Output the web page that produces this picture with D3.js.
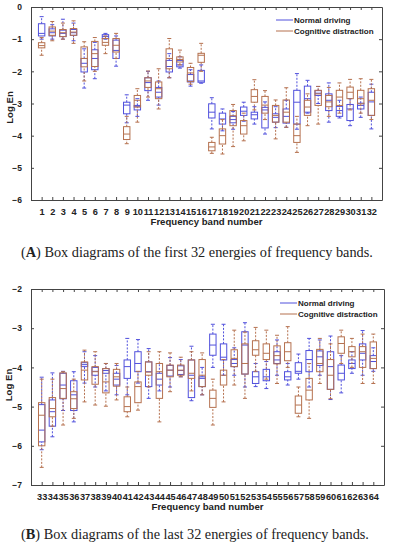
<!DOCTYPE html>
<html>
<head>
<meta charset="utf-8">
<script src="https://cdn.jsdelivr.net/npm/d3@7"></script>
<style>
  body { margin:0; background:#fff; }
  .tick text { font-family:"Liberation Sans", Arial, sans-serif; font-weight:bold; fill:#222; }
  .label { font-family:"Liberation Sans", Arial, sans-serif; font-weight:bold; fill:#222; }
  .caption { font-family:"Liberation Serif", "Times New Roman", serif; fill:#222; }
</style>
</head>
<body>
<svg width="394" height="550"></svg>
<script>
// box stats per band: [lowWhisker, q1, median, q3, highWhisker]
var bandsA = d3.range(1, 33);
var bandsB = d3.range(33, 65);

var normalA = [
  [-1.0,-0.9,-0.82,-0.52,-0.3],[-1.0,-0.9,-0.8,-0.68,-0.55],[-1.0,-0.92,-0.82,-0.72,-0.38],[-1.05,-0.88,-0.8,-0.7,-0.5],
  [-2.52,-2.02,-1.75,-1.6,-1.3],[-2.23,-1.95,-1.6,-1.33,-1.1],[-1.0,-0.98,-0.92,-0.86,-0.82],[-1.84,-1.6,-1.35,-1.03,-0.9],
  [-3.6,-3.32,-3.05,-2.96,-2.73],[-3.4,-3.2,-3.1,-3.06,-2.85],[-2.9,-2.6,-2.35,-2.2,-2.0],[-3.05,-2.8,-2.65,-2.5,-2.3],
  [-2.2,-2.02,-1.85,-1.66,-1.45],[-1.9,-1.86,-1.8,-1.66,-1.55],[-2.46,-2.33,-2.3,-2.1,-1.95],[-2.37,-2.34,-2.3,-1.97,-1.8],
  [-3.79,-3.45,-3.27,-3.01,-2.82],[-3.85,-3.64,-3.48,-3.3,-3.17],[-3.8,-3.6,-3.5,-3.4,-3.25],[-3.55,-3.37,-3.24,-3.11,-2.96],
  [-3.64,-3.48,-3.35,-3.27,-3.1],[-3.95,-3.76,-3.2,-3.12,-2.95],[-3.75,-3.58,-3.43,-3.32,-3.1],[-3.74,-3.61,-3.4,-3.17,-2.9],
  [-3.8,-3.64,-2.96,-2.59,-2.07],[-3.3,-3.27,-2.85,-2.46,-2.28],[-3.0,-2.75,-2.68,-2.6,-2.47],[-3.58,-3.22,-2.9,-2.7,-2.36],
  [-3.45,-3.4,-3.22,-3.09,-2.9],[-3.69,-3.53,-3.17,-3.03,-2.85],[-3.43,-3.17,-3.06,-2.99,-2.8],[-3.79,-3.37,-2.95,-2.65,-2.4]
];
var cognitiveA = [
  [-1.5,-1.27,-1.2,-1.11,-0.95],[-1.05,-0.88,-0.75,-0.62,-0.45],[-1.0,-0.92,-0.8,-0.7,-0.5],[-1.13,-0.88,-0.78,-0.67,-0.43],
  [-2.3,-1.86,-1.6,-1.24,-1.08],[-2.0,-1.85,-1.45,-1.07,-0.95],[-1.45,-1.19,-1.1,-0.98,-0.9],[-1.6,-1.4,-1.19,-0.98,-0.82],
  [-4.25,-4.12,-3.95,-3.72,-3.4],[-3.58,-3.11,-2.9,-2.75,-2.54],[-2.8,-2.5,-2.3,-2.2,-1.99],[-3.17,-2.85,-2.54,-2.33,-1.92],
  [-2.2,-1.92,-1.6,-1.3,-0.98],[-1.8,-1.71,-1.63,-1.55,-1.34],[-2.4,-2.32,-2.05,-1.88,-1.75],[-2.0,-1.72,-1.5,-1.44,-1.13],
  [-4.55,-4.47,-4.35,-4.21,-4.05],[-4.57,-4.26,-4.0,-3.79,-3.5],[-4.34,-3.69,-3.38,-3.22,-3.03],[-4.16,-3.95,-3.69,-3.53,-3.3],
  [-3.2,-2.96,-2.78,-2.57,-2.26],[-3.5,-3.3,-3.05,-2.78,-2.6],[-4.1,-3.58,-3.37,-3.06,-2.89],[-3.74,-3.58,-3.27,-2.89,-2.51],
  [-4.52,-4.21,-4.0,-3.64,-3.4],[-3.69,-3.37,-3.11,-2.9,-2.7],[-3.64,-3.06,-2.7,-2.59,-2.47],[-3.4,-3.1,-2.95,-2.75,-2.5],
  [-3.3,-3.06,-2.8,-2.59,-2.36],[-3.2,-2.85,-2.65,-2.49,-2.25],[-3.3,-3.01,-2.85,-2.59,-2.23],[-3.5,-3.37,-2.9,-2.54,-2.25]
];
var normalB = [
  [-6.1,-5.9,-5.6,-4.95,-4.25],[-5.77,-5.5,-5.13,-4.83,-4.14],[-5.1,-4.8,-4.45,-4.15,-4.1],[-5.39,-5.1,-4.7,-4.34,-4.11],
  [-4.4,-3.98,-3.93,-3.88,-3.6],[-4.5,-4.2,-4.1,-4.0,-3.7],[-4.6,-4.15,-4.08,-4.03,-3.9],[-4.7,-4.45,-4.3,-4.15,-3.95],
  [-4.7,-4.28,-3.98,-3.81,-3.26],[-4.4,-4.11,-3.9,-3.6,-3.29],[-4.79,-4.49,-4.11,-3.86,-3.52],[-4.6,-4.45,-4.3,-4.15,-3.9],
  [-4.5,-4.22,-4.07,-3.95,-3.75],[-4.24,-4.18,-4.08,-3.96,-3.8],[-4.85,-4.77,-4.2,-3.81,-3.46],[-4.7,-4.49,-4.28,-4.24,-4.0],
  [-4.0,-3.69,-3.43,-3.15,-2.9],[-4.2,-3.81,-3.74,-3.4,-2.9],[-4.2,-3.98,-3.9,-3.8,-3.5],[-4.5,-4.17,-3.43,-3.09,-2.86],
  [-4.49,-4.41,-4.24,-4.11,-3.9],[-4.54,-4.34,-4.24,-4.05,-3.85],[-4.2,-3.9,-3.81,-3.6,-3.3],[-4.45,-4.32,-4.24,-4.11,-3.9],
  [-4.3,-4.15,-4.1,-3.88,-3.66],[-4.5,-4.11,-3.8,-3.57,-3.26],[-4.2,-3.95,-3.73,-3.58,-3.3],[-4.82,-4.56,-3.98,-3.6,-3.2],
  [-4.65,-4.32,-4.15,-3.94,-3.7],[-4.15,-4.03,-3.9,-3.81,-3.6],[-4.2,-3.81,-3.64,-3.4,-3.06],[-4.1,-4.03,-3.85,-3.7,-3.5]
];
var cognitiveB = [
  [-6.55,-6.0,-5.22,-4.9,-4.3],[-5.5,-5.26,-5.05,-4.77,-4.3],[-5.47,-4.79,-4.54,-4.14,-4.11],[-5.3,-5.05,-4.8,-4.62,-4.3],
  [-4.88,-4.32,-4.07,-3.86,-3.56],[-4.96,-4.43,-4.11,-3.98,-3.6],[-4.99,-4.65,-4.37,-4.03,-3.9],[-4.83,-4.48,-4.24,-4.05,-3.9],
  [-5.26,-5.13,-5.0,-4.75,-4.5],[-5.09,-4.9,-4.49,-4.37,-4.1],[-4.5,-4.2,-4.12,-3.86,-3.6],[-5.39,-4.79,-4.11,-3.9,-3.6],
  [-4.62,-4.24,-4.07,-3.94,-3.63],[-4.24,-4.2,-4.07,-3.94,-3.74],[-4.6,-4.28,-4.15,-3.81,-3.6],[-4.7,-4.49,-4.2,-3.8,-3.63],
  [-5.47,-5.02,-4.79,-4.58,-4.3],[-4.88,-4.45,-4.2,-4.07,-3.8],[-4.45,-3.98,-3.77,-3.55,-3.05],[-4.79,-4.17,-3.9,-3.4,-3.1],
  [-4.1,-3.69,-3.55,-3.32,-2.98],[-4.3,-3.8,-3.64,-3.4,-3.05],[-4.41,-3.91,-3.7,-3.45,-3.18],[-4.0,-3.83,-3.6,-3.37,-2.96],
  [-5.26,-5.17,-4.96,-4.73,-4.5],[-5.3,-4.83,-4.58,-4.28,-3.9],[-4.41,-4.11,-3.9,-3.54,-3.26],[-4.8,-4.56,-4.2,-3.8,-3.4],
  [-3.9,-3.64,-3.39,-3.22,-3.05],[-4.0,-3.73,-3.6,-3.47,-3.26],[-4.41,-4.0,-3.6,-3.47,-3.15],[-4.41,-4.03,-3.77,-3.35,-3.15]
];

var seriesNames = ["Normal driving", "Cognitive distraction"];
var seriesColors = ["#5050dc", "#b5714f"];

var svg = d3.select("svg");

//draws one panel of box plots
var drawPanel = function(p)
{
    var xScale = d3.scaleLinear()
        .domain([p.bands[0]-1, p.bands[p.bands.length-1]+1])
        .range([p.left, p.right]);
    var yScale = d3.scaleLinear()
        .domain(p.yDomain)
        .range([p.bottom, p.top]);

    var g = svg.append("g");

    // boxes, one group per series
    [p.normal, p.cognitive].forEach(function(data, si)
    {
        var col = seriesColors[si];
        var boxes = g.append("g")
            .selectAll("g")
            .data(data)
            .enter()
            .append("g");
        var bw = 6.4, cw = 2;
        var xc = function(d, i) { return xScale(p.bands[i]); };

        boxes.append("line")
            .attr("x1", xc).attr("x2", xc)
            .attr("y1", function(d){ return yScale(d[0]); })
            .attr("y2", function(d){ return yScale(d[1]); })
            .attr("stroke", col).attr("stroke-dasharray", "2,1.5");
        boxes.append("line")
            .attr("x1", xc).attr("x2", xc)
            .attr("y1", function(d){ return yScale(d[3]); })
            .attr("y2", function(d){ return yScale(d[4]); })
            .attr("stroke", col).attr("stroke-dasharray", "2,1.5");
        [0, 4].forEach(function(k)
        {
            boxes.append("line")
                .attr("x1", function(d,i){ return xc(d,i)-cw; })
                .attr("x2", function(d,i){ return xc(d,i)+cw; })
                .attr("y1", function(d){ return yScale(d[k]); })
                .attr("y2", function(d){ return yScale(d[k]); })
                .attr("stroke", col);
        });
        boxes.append("rect")
            .attr("x", function(d,i){ return xc(d,i)-bw/2; })
            .attr("width", bw)
            .attr("y", function(d){ return yScale(d[3]); })
            .attr("height", function(d){ return yScale(d[1]) - yScale(d[3]); })
            .attr("fill", "none")
            .attr("stroke", col);
        boxes.append("line")
            .attr("x1", function(d,i){ return xc(d,i)-bw/2; })
            .attr("x2", function(d,i){ return xc(d,i)+bw/2; })
            .attr("y1", function(d){ return yScale(d[2]); })
            .attr("y2", function(d){ return yScale(d[2]); })
            .attr("stroke", col);
    });

    // axes, ticks inward on all four sides
    var yTicks = d3.range(p.yDomain[0], p.yDomain[1]+1);
    var axL = g.append("g").attr("transform", "translate("+p.left+",0)")
        .call(d3.axisLeft(yScale).tickValues(yTicks).tickSizeInner(-3).tickSizeOuter(0).tickPadding(9).tickFormat(d3.format("d")));
    var axR = g.append("g").attr("transform", "translate("+p.right+",0)")
        .call(d3.axisRight(yScale).tickValues(yTicks).tickSizeInner(-3).tickSizeOuter(0).tickFormat(""));
    var axB = g.append("g").attr("transform", "translate(0,"+p.bottom+")")
        .call(d3.axisBottom(xScale).tickValues(p.bands).tickSizeInner(-3).tickSizeOuter(0).tickPadding(8).tickFormat(d3.format("d")));
    var axT = g.append("g").attr("transform", "translate(0,"+p.top+")")
        .call(d3.axisTop(xScale).tickValues(p.bands).tickSizeInner(-3).tickSizeOuter(0).tickFormat(""));
    [axL, axR, axB, axT].forEach(function(a)
    {
        a.select(".domain").attr("stroke", "#444");
        a.selectAll(".tick line").attr("stroke", "#444");
    });
    axL.selectAll(".tick text").style("font-size", "8.5px");
    axB.selectAll(".tick text").style("font-size", "9.2px");

    // labels
    g.append("text")
        .classed("label", true)
        .text("Frequency band number")
        .attr("text-anchor", "middle")
        .style("font-size", "9.6px")
        .attr("x", (p.left+p.right)/2)
        .attr("y", p.bottom+25);
    g.append("text")
        .classed("label", true)
        .text("Log\u00a0En")
        .attr("text-anchor", "middle")
        .style("font-size", "9.6px")
        .attr("transform", "translate("+p.yLabX+","+((p.top+p.bottom)/2+p.yLabDy)+") rotate(-90)");

    // legend
    var leg = g.append("g")
        .attr("transform", "translate("+p.legX+","+p.legY+")");
    seriesNames.forEach(function(name, i)
    {
        leg.append("line")
            .attr("x1", 0).attr("x2", 17)
            .attr("y1", i*11).attr("y2", i*11)
            .attr("stroke", seriesColors[i]);
        leg.append("text")
            .classed("label", true)
            .text(name)
            .style("font-size", "8px")
            .attr("x", 18)
            .attr("y", i*11+3);
    });

    // caption
    var cap = g.append("text")
        .classed("caption", true)
        .style("font-size", "14.3px")
        .attr("x", 21)
        .attr("y", p.capY);
    cap.append("tspan").text("(");
    cap.append("tspan").text(p.letter).style("font-weight", "bold");
    cap.append("tspan").text(") " + p.caption);
}

drawPanel({
    bands: bandsA, normal: normalA, cognitive: cognitiveA,
    left: 31, right: 382, top: 7, bottom: 200, yDomain: [-6, 0],
    legX: 276, legY: 20, capY: 257, letter: "A", yLabX: 13, yLabDy: 4,
    caption: "Box diagrams of the first 32 energies of frequency bands."
});
drawPanel({
    bands: bandsB, normal: normalB, cognitive: cognitiveB,
    left: 31, right: 384, top: 289, bottom: 485, yDomain: [-7, -2],
    legX: 280, legY: 303, capY: 539, letter: "B", yLabX: 12, yLabDy: -2,
    caption: "Box diagrams of the last 32 energies of frequency bands."
});
</script>
</body>
</html>
